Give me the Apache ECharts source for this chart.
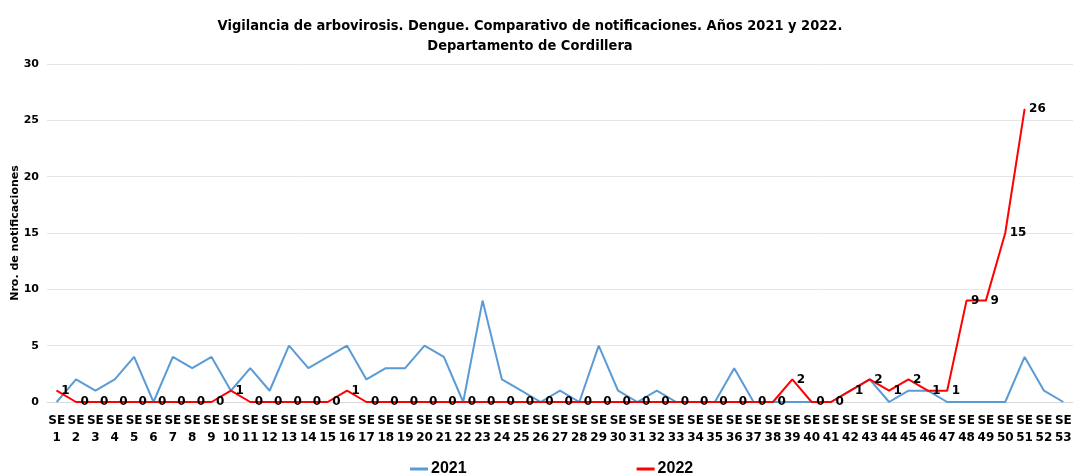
<!DOCTYPE html>
<html>
<head>
<meta charset="utf-8">
<script src="https://cdn.jsdelivr.net/npm/echarts@6/dist/echarts.min.js"></script>
<style>
  html, body { margin: 0; padding: 0; background: #fff; }
  #chart { width: 1073px; height: 474px; }
</style>
</head>
<body>
<div id="chart"></div>
<script>
// semanas epidemiologicas
const semanas = [];
for (let i = 1; i <= 53; i++) semanas.push("SE\n" + i);

// notificaciones 2021
const casos2021 = [0, 2, 1, 2, 4, 0, 4, 3, 4, 1, 3, 1, 5, 3, 4, 5, 2, 3, 3, 5, 4, 0, 9, 2, 1, 0, 1, 0, 5, 1,
  0, 1, 0, 0, 0, 3, 0, 0, 0, 0, 0, 1, 2, 0, 1, 1, 0, 0, 0, 0, 4, 1, 0];

// notificaciones 2022 (hasta SE 51)
const casos2022 = [1, 0, 0, 0, 0, 0, 0, 0, 0, 1, 0, 0, 0, 0, 0, 1, 0, 0, 0, 0, 0, 0, 0, 0, 0, 0, 0, 0, 0, 0,
  0, 0, 0, 0, 0, 0, 0, 0, 2, 0, 0, 1, 2, 1, 2, 1, 1, 9, 9, 15, 26];

const yTicks = [0, 5, 10, 15, 20, 25, 30];

let dom = echarts.init(document.getElementById("chart"));
dom.setOption({
  textStyle: { fontFamily: "DejaVu Sans" },
  title: {
    text: "Vigilancia de arbovirosis. Dengue. Comparativo de notificaciones. Años 2021 y 2022.\nDepartamento de Cordillera",
    left: 525,
    textAlign: "center",
    top: 11,
    textStyle: {
      fontFamily: "DejaVu Sans Condensed, DejaVu Sans",
      fontSize: 14.5,
      fontWeight: "bold",
      color: "#000",
      lineHeight: 20
    }
  },
  legend: {
    left: 405,
    top: 456,
    itemGap: 170,
    itemWidth: 18,
    itemHeight: 3,
    icon: "rect",
    textStyle: { fontFamily: "Liberation Sans", fontSize: 16, fontWeight: "bold", color: "#000", padding: [0, 0, 0, -2] },
    data: ["2021", "2022"]
  },
  grid: {
    left: 47,
    right: 0,
    top: 64,
    bottom: 72,
    outerBoundsMode: "none"
  },
  xAxis: {
    type: "category",
    data: semanas,
    axisTick: { show: false },
    axisLine: { lineStyle: { color: "#d9d9d9" } },
    axisLabel: {
      interval: 0,
      color: "#000",
      fontSize: 12,
      fontWeight: "bold",
      lineHeight: 17,
      margin: 10
    }
  },
  yAxis: {
    type: "value",
    min: yTicks[0],
    max: yTicks[yTicks.length - 1],
    interval: 5,
    name: "Nro. de notificaciones",
    nameLocation: "middle",
    nameGap: 26,
    nameMoveOverlap: false,
    nameTextStyle: { fontSize: 11, fontWeight: "bold", color: "#000" },
    axisLabel: { color: "#000", fontSize: 11, fontWeight: "bold", margin: 8 },
    splitLine: { lineStyle: { color: "#e6e6e6" } },
    axisLine: { show: false },
    axisTick: { show: false }
  },
  series: [
    {
      name: "2021",
      type: "line",
      data: casos2021,
      symbol: "none",
      color: "#5B9BD5",
      lineStyle: { width: 2, color: "#5B9BD5" },
      z: 2
    },
    {
      name: "2022",
      type: "line",
      data: casos2022,
      symbol: "circle",
      symbolSize: 1,
      color: "#ff0000",
      itemStyle: { color: "#ff0000" },
      lineStyle: { width: 2, color: "#ff0000" },
      label: {
        show: true,
        position: "right",
        distance: 4,
        color: "#000",
        fontSize: 12,
        fontWeight: "bold"
      },
      z: 3
    }
  ]
});
dom.resize();
</script>
</body>
</html>
